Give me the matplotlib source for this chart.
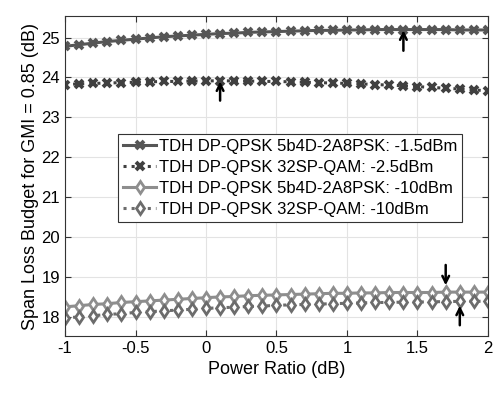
import matplotlib
matplotlib.use("Agg")
import matplotlib.pyplot as plt
import numpy as np

plt.rcParams['font.family'] = ['Liberation Sans', 'DejaVu Sans']

power_ratio = np.round(np.arange(-1.0, 2.01, 0.1), 1)

tdh_5b4d_m15 = [24.78, 24.82, 24.86, 24.90, 24.93, 24.96, 24.99, 25.02, 25.04, 25.06,
                25.08, 25.10, 25.11, 25.13, 25.14, 25.15, 25.16, 25.17, 25.18, 25.18,
                25.19, 25.19, 25.20, 25.20, 25.20, 25.20, 25.20, 25.20, 25.19, 25.19, 25.19]
tdh_32sp_m25 = [23.82, 23.84, 23.85, 23.86, 23.87, 23.88, 23.89, 23.90, 23.90, 23.91,
                23.91, 23.92, 23.91, 23.91, 23.90, 23.90, 23.89, 23.88, 23.87, 23.86,
                23.85, 23.84, 23.82, 23.81, 23.79, 23.77, 23.75, 23.73, 23.71, 23.69, 23.66]
tdh_5b4d_m10 = [18.25, 18.28, 18.31, 18.33, 18.36, 18.38, 18.40, 18.42, 18.44, 18.46,
                18.48, 18.50, 18.51, 18.53, 18.54, 18.55, 18.56, 18.57, 18.58, 18.59,
                18.59, 18.60, 18.60, 18.61, 18.61, 18.61, 18.61, 18.62, 18.62, 18.62, 18.62]
tdh_32sp_m10 = [17.97, 18.00, 18.03, 18.06, 18.08, 18.11, 18.13, 18.15, 18.17, 18.19,
                18.21, 18.23, 18.24, 18.26, 18.27, 18.29, 18.30, 18.31, 18.32, 18.33,
                18.34, 18.35, 18.36, 18.36, 18.37, 18.37, 18.38, 18.38, 18.39, 18.39, 18.39]

labels = ['TDH DP-QPSK 5b4D-2A8PSK: -1.5dBm',
          'TDH DP-QPSK 32SP-QAM: -2.5dBm',
          'TDH DP-QPSK 5b4D-2A8PSK: -10dBm',
          'TDH DP-QPSK 32SP-QAM: -10dBm']

# optimum markers: (x, arrow tip y, arrow tail y)
arrows = [(1.4, 25.25, 24.6), (0.1, 23.97, 23.35), (1.7, 18.72, 19.37), (1.8, 18.35, 17.72)]

fig = plt.figure(figsize=(4.95, 3.96), dpi=100)
ax = fig.add_axes([65 / 495, 60 / 396, 423 / 495, 320 / 396])

ax.plot(power_ratio, tdh_5b4d_m15, '-', color='#565656', lw=2.2,
        marker='x', ms=6, mew=2.8, label=labels[0])
ax.plot(power_ratio, tdh_32sp_m25, ':', color='#404040', lw=2.2,
        marker='x', ms=6, mew=2.8, label=labels[1])
ax.plot(power_ratio, tdh_5b4d_m10, '-', color='#8e8e8e', lw=2.2,
        marker='d', ms=6.5, mew=2, mfc='white', label=labels[2])
ax.plot(power_ratio, tdh_32sp_m10, ':', color='#6c6c6c', lw=2.2,
        marker='d', ms=6.5, mew=2, mfc='white', label=labels[3])

for x, tip, tail in arrows:
    ax.annotate('', xy=(x, tip), xytext=(x, tail),
                arrowprops=dict(arrowstyle='->', color='black', lw=1.8,
                                mutation_scale=12))

ax.set_xlim(-1, 2)
ax.set_ylim(17.52, 25.54)
ax.set_xticks([-1, -0.5, 0, 0.5, 1, 1.5, 2])
ax.set_xticklabels(['-1', '-0.5', '0', '0.5', '1', '1.5', '2'])
ax.set_yticks(range(18, 26))
ax.grid(True, color='#e3e3e3', lw=0.8)
ax.set_axisbelow(True)
ax.tick_params(direction='in', top=True, right=True, labelsize=12,
               color='#333333', length=4)
for s in ax.spines.values():
    s.set_color('#333333')
    s.set_linewidth(0.8)

ax.set_xlabel('Power Ratio (dB)', fontsize=13)
ax.set_ylabel('Span Loss Budget for GMI = 0.85 (dB)', fontsize=13, labelpad=2)

leg = ax.legend(loc='upper left', bbox_to_anchor=(0.125, 0.631), fontsize=12,
                handlelength=2.0, borderpad=0.3, labelspacing=0.35,
                handletextpad=0.15, borderaxespad=0, fancybox=False,
                edgecolor='#333333', framealpha=1)
leg.get_frame().set_linewidth(0.8)

fig.savefig('out.png', dpi=100)
